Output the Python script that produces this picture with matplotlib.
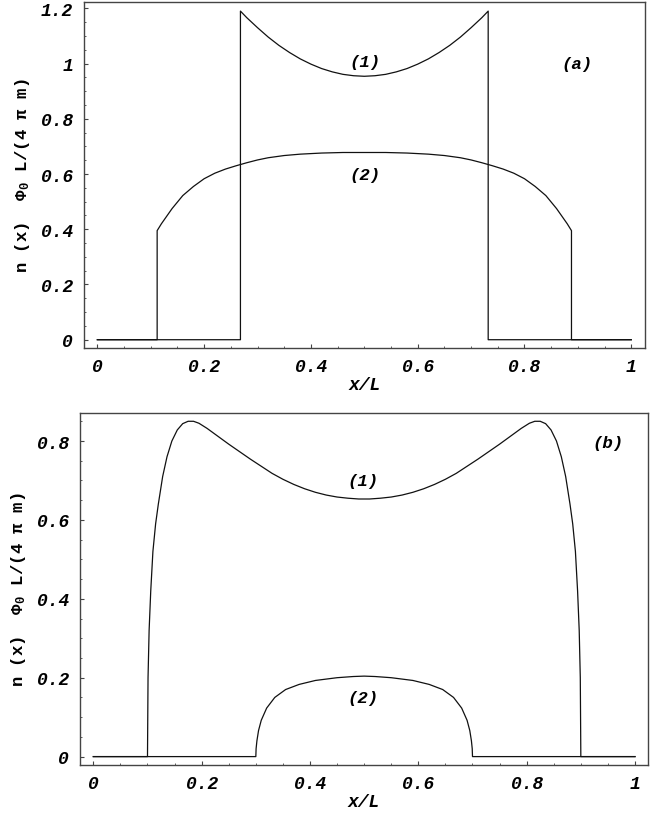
import matplotlib
matplotlib.use("Agg")
import matplotlib.pyplot as plt
from matplotlib.ticker import MultipleLocator, FixedLocator

# ---------------- data ----------------
# panel (a), curve (1)
a1_x = [0.0, 0.268, 0.268, 0.28, 0.30, 0.32, 0.34, 0.36, 0.38, 0.40, 0.42, 0.44, 0.46, 0.48, 0.50,
        0.52, 0.54, 0.56, 0.58, 0.60, 0.62, 0.64, 0.66, 0.68, 0.70, 0.72, 0.732, 0.732, 1.0]
a1_y = [0.0, 0.0, 1.190, 1.166, 1.130, 1.096, 1.066, 1.040, 1.017, 0.998, 0.982, 0.970, 0.961, 0.956, 0.954,
        0.956, 0.961, 0.970, 0.982, 0.998, 1.017, 1.040, 1.066, 1.096, 1.130, 1.166, 1.190, 0.0, 0.0]
# panel (a), curve (2)
a2_x = [0.0, 0.112, 0.112, 0.12, 0.14, 0.16, 0.18, 0.20, 0.22, 0.24, 0.26, 0.28, 0.30, 0.32, 0.35, 0.38,
        0.42, 0.46, 0.50, 0.54, 0.58, 0.62, 0.65, 0.68, 0.70, 0.72, 0.74, 0.76, 0.78, 0.80, 0.82, 0.84,
        0.86, 0.88, 0.888, 0.888, 1.0]
a2_y = [0.0, 0.0, 0.395, 0.420, 0.475, 0.522, 0.555, 0.583, 0.603, 0.618, 0.630, 0.641, 0.651, 0.659, 0.667, 0.672,
        0.676, 0.678, 0.678, 0.678, 0.676, 0.672, 0.667, 0.659, 0.651, 0.641, 0.630, 0.618, 0.603, 0.583, 0.555, 0.522,
        0.475, 0.420, 0.395, 0.0, 0.0]
# panel (b), curve (1)
b1_x = [0.0, 0.100, 0.1005, 0.101, 0.103, 0.106, 0.110, 0.115, 0.120, 0.128, 0.136, 0.145, 0.155, 0.165, 0.175,
        0.185, 0.195, 0.21, 0.23, 0.25, 0.27, 0.29, 0.31, 0.33, 0.35, 0.37, 0.39, 0.41, 0.43, 0.45, 0.47, 0.49,
        0.50, 0.51, 0.53, 0.55, 0.57, 0.59, 0.61, 0.63, 0.65, 0.67, 0.69, 0.71, 0.73, 0.75, 0.77, 0.79, 0.805,
        0.815, 0.825, 0.835, 0.845, 0.855, 0.864, 0.872, 0.880, 0.885, 0.890, 0.894, 0.897, 0.899, 0.8995,
        0.900, 1.0]
b1_y = [0.0, 0.0, 0.10, 0.20, 0.32, 0.42, 0.52, 0.59, 0.64, 0.71, 0.76, 0.80, 0.828, 0.844, 0.850,
        0.850, 0.845, 0.832, 0.812, 0.792, 0.773, 0.754, 0.736, 0.718, 0.703, 0.690, 0.679, 0.670, 0.663, 0.658, 0.655, 0.653,
        0.653, 0.653, 0.655, 0.658, 0.663, 0.670, 0.679, 0.690, 0.703, 0.718, 0.736, 0.754, 0.773, 0.792, 0.812, 0.832, 0.845,
        0.850, 0.850, 0.844, 0.828, 0.80, 0.76, 0.71, 0.64, 0.59, 0.52, 0.42, 0.32, 0.20, 0.10,
        0.0, 0.0]
# panel (b), curve (2)
b2_x = [0.0, 0.300, 0.3005, 0.302, 0.305, 0.310, 0.320, 0.335, 0.355, 0.38, 0.41, 0.45, 0.48, 0.50,
        0.52, 0.55, 0.59, 0.62, 0.645, 0.665, 0.680, 0.690, 0.695, 0.698, 0.6995, 0.700, 1.0]
b2_y = [0.0, 0.0, 0.020, 0.040, 0.066, 0.092, 0.123, 0.150, 0.170, 0.183, 0.193, 0.200, 0.203, 0.204,
        0.203, 0.200, 0.193, 0.183, 0.170, 0.150, 0.123, 0.092, 0.066, 0.040, 0.020, 0.0, 0.0]

x_ticks = [0, 0.2, 0.4, 0.6, 0.8, 1]
x_ticklabels = ["0", "0.2", "0.4", "0.6", "0.8", "1"]
ya_ticks = [0, 0.2, 0.4, 0.6, 0.8, 1, 1.2]
ya_ticklabels = ["0", "0.2", "0.4", "0.6", "0.8", "1", "1.2"]
yb_ticks = [0, 0.2, 0.4, 0.6, 0.8]
yb_ticklabels = ["0", "0.2", "0.4", "0.6", "0.8"]

xlabel = "x/L"
ylabel = r"n (x)  $\mathit{\Phi}_{\mathrm{0}}$ L/(4 π m)"

# ---------------- drawing ----------------
plt.rcParams["mathtext.fontset"] = "custom"
plt.rcParams["mathtext.rm"] = "Liberation Mono:bold"
plt.rcParams["mathtext.it"] = "Liberation Mono:bold:italic"
plt.rcParams["mathtext.bf"] = "Liberation Mono:bold"

W, H = 663, 820
fig = plt.figure(figsize=(W / 100, H / 100), dpi=100)

MONO = ["Liberation Mono", "DejaVu Sans Mono"]
tick_font = dict(family=MONO, weight="bold", style="italic", size=13)
lab_font = dict(family=MONO, weight="bold", style="italic", size=12.5)
frame_col = "#444444"
line_col = "#111111"


def px_axes(l, t, r, b):
    return fig.add_axes([l / W, 1 - b / H, (r - l) / W, (b - t) / H])


def style_axes(ax, xlim, ylim, yticks, yticklabels):
    ax.set_xlim(*xlim)
    ax.set_ylim(*ylim)
    for s in ax.spines.values():
        s.set_color(frame_col)
        s.set_linewidth(1.0)
    ax.xaxis.set_major_locator(FixedLocator(x_ticks))
    ax.set_xticklabels(x_ticklabels, fontdict=tick_font)
    ax.xaxis.set_minor_locator(MultipleLocator(0.05))
    ax.yaxis.set_major_locator(FixedLocator(yticks))
    ax.set_yticklabels(yticklabels, fontdict=tick_font)
    ax.yaxis.set_minor_locator(MultipleLocator(0.05))
    ax.tick_params(which="both", direction="in", top=False, right=False, color=frame_col)
    ax.tick_params(which="major", length=3, width=0.8)
    ax.tick_params(which="minor", length=1.5, width=0.6)
    ax.tick_params(axis="x", which="major", pad=7)
    ax.tick_params(axis="y", which="major", pad=8)
    ax.set_ylabel(ylabel, family=MONO, weight="bold", size=12.5, labelpad=6)


# panel (a)
axa = px_axes(84, 3, 645, 349)
axa.plot(a1_x, a1_y, color=line_col, lw=0.9)
axa.plot(a2_x, a2_y, color=line_col, lw=0.9)
style_axes(axa, (-0.025, 1.0257), (-0.03, 1.223), ya_ticks, ya_ticklabels)
axa.set_xlabel(xlabel, fontdict=tick_font, labelpad=1)
axa.text(0.501, 1.006, "(1)", ha="center", va="center", **lab_font)
axa.text(0.501, 0.600, "(2)", ha="center", va="center", **lab_font)
axa.text(0.898, 1.001, "(a)", ha="center", va="center", **lab_font)

# panel (b)
axb = px_axes(80, 414, 648, 766)
axb.plot(b1_x, b1_y, color=line_col, lw=0.9)
axb.plot(b2_x, b2_y, color=line_col, lw=0.9)
style_axes(axb, (-0.0246, 1.024), (-0.0213, 0.871), yb_ticks, yb_ticklabels)
axb.set_xlabel(xlabel, fontdict=tick_font, labelpad=1)
axb.text(0.498, 0.699, "(1)", ha="center", va="center", **lab_font)
axb.text(0.498, 0.150, "(2)", ha="center", va="center", **lab_font)
axb.text(0.950, 0.797, "(b)", ha="center", va="center", **lab_font)

fig.savefig("out.png", dpi=100)
